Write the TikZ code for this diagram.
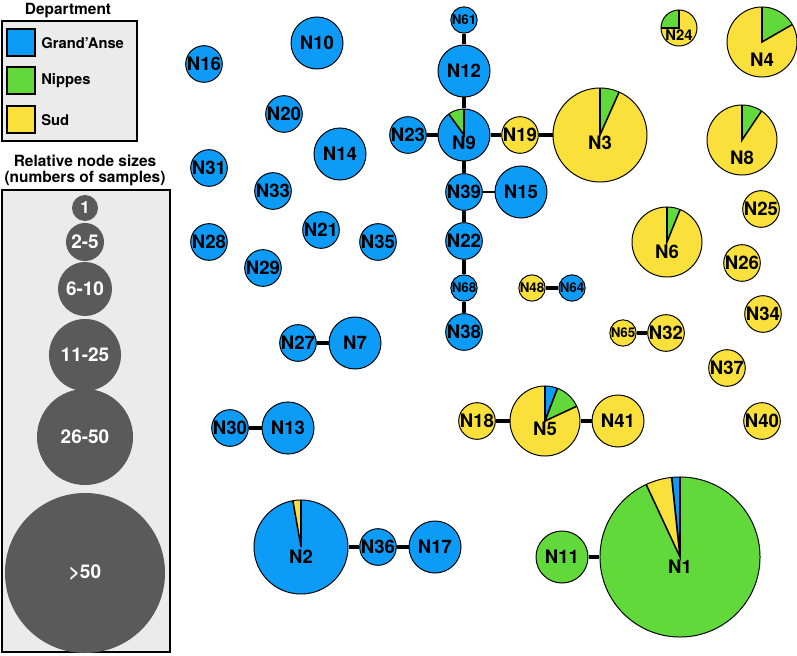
\documentclass[tikz,border=0pt]{standalone}
\usepackage{fontspec}
\setmainfont{TeX Gyre Heros}
\usepackage{tikz}
\usepackage{xcolor}
\usetikzlibrary{positioning}

\definecolor{gra}{RGB}{12,156,247}
\definecolor{nip}{RGB}{97,217,58}
\definecolor{sud}{RGB}{249,224,59}
\definecolor{boxgray}{RGB}{235,235,235}
\definecolor{keygray}{RGB}{90,90,90}

\newcommand{\lowered}[2]{\raisebox{-#1}[\height][\depth]{#2}}

\begin{document}
\begin{tikzpicture}[x=0.025cm, y=-0.025cm]

    % Define style for different elements
    \tikzstyle{hap} = [circle, draw=black, line width=0.7pt, inner sep=0pt, font=\fontsize{13.2}{13.2}\selectfont\bfseries]
    \tikzstyle{one} = [hap, minimum size=0.65cm, font=\fontsize{9.5}{9.5}\selectfont\bfseries]
    \tikzstyle{few} = [hap, minimum size=0.9cm]
    \tikzstyle{some} = [hap, minimum size=1.3cm]
    \tikzstyle{many} = [hap, minimum size=1.75cm]
    \tikzstyle{lots} = [hap, minimum size=2.35cm]
    \tikzstyle{most} = [hap, minimum size=4cm]
    \tikzstyle{pie} = [path picture={\foreach \c/\a/\b in {#1} {\filldraw[fill=\c, draw=black, line width=1.1pt] (path picture bounding box.center) -- ++(\a:5cm) arc[start angle=\a, end angle=\b, radius=5cm] -- cycle;}}]
    \tikzstyle{link} = [line width=3.2pt]
    \tikzstyle{thinlink} = [line width=1.4pt]
    \tikzstyle{key} = [circle, fill=keygray, text=white, inner sep=0pt, font=\fontsize{13.5}{13.5}\selectfont\bfseries]
    \tikzstyle{legtext} = [font=\fontsize{10.5}{10.5}\selectfont\bfseries, anchor=west, inner sep=0pt]
    \tikzstyle{swatch} = [draw=black, line width=1.4pt, minimum width=0.7cm, minimum height=0.67cm, inner sep=0pt]

    \useasboundingbox (0,0) rectangle (797,656);

    % Legend: departments
    \node[font=\fontsize{11}{11}\selectfont\bfseries] (deptitle) at (68,11) {Department};
    \draw[line width=1.4pt, fill=boxgray] (2,21) rectangle (137,141);
    \node (swgra) [swatch, fill=gra] at (21,42.5) {};
    \node (swnip) [swatch, fill=nip] at (21,80.5) {};
    \node (swsud) [swatch, fill=sud] at (21,119.5) {};
    \node (lgra) [legtext] at (41,43) {Grand'Anse};
    \node (lnip) [legtext] at (41,81) {Nippes};
    \node (lsud) [legtext] at (41,120) {Sud};

    % Legend: node sizes
    \node[font=\fontsize{11}{11}\selectfont\bfseries] (sizetitle) at (85,161) {Relative node sizes};
    \node[font=\fontsize{11}{11}\selectfont\bfseries] (sizesub) at (85,179) {(numbers of samples)};
    \draw[line width=1.4pt, fill=boxgray] (2,190) rectangle (170,652);
    \node (sz1) [key, minimum size=0.65cm, font=\fontsize{12}{12}\selectfont\bfseries] at (85,208) {1};
    \node (sz2) [key, minimum size=0.95cm] at (85,242) {2-5};
    \node (sz3) [key, minimum size=1.35cm] at (85,289) {6-10};
    \node (sz4) [key, minimum size=1.8cm] at (85,355) {11-25};
    \node (sz5) [key, minimum size=2.4cm] at (85,437) {26-50};
    \node (sz6) [key, minimum size=4cm] at (85,573) {>50};

    % Place nodes
    \node (N10) [some, fill=gra] at (317,43) {N10};
    \node (N16) [few, fill=gra] at (204,64) {N16};
    \node (N20) [few, fill=gra] at (284,114) {N20};
    \node (N14) [some, fill=gra] at (340,154) {N14};
    \node (N31) [few, fill=gra] at (209,168) {N31};
    \node (N33) [few, fill=gra] at (273,191) {N33};
    \node (N21) [few, fill=gra] at (321,230) {N21};
    \node (N35) [few, fill=gra] at (378,242) {N35};
    \node (N28) [few, fill=gra] at (209,242) {N28};
    \node (N29) [few, fill=gra] at (263,268) {N29};

    \node (N61) [one, fill=gra] at (464,20) {N61};
    \node (N12) [some, fill=gra] at (464,71) {N12};
    \node (N9) [some, fill=gra, pie={nip/90/126}] at (464,135) {\lowered{0.2cm}{N9}};
    \node (N23) [few, fill=gra] at (408,135) {N23};
    \node (N19) [few, fill=sud] at (520,135) {N19};
    \node (N3) [lots, fill=sud, pie={nip/66/90}] at (600,135) {\lowered{0.2cm}{N3}};
    \node (N39) [few, fill=gra] at (464,192) {N39};
    \node (N15) [some, fill=gra] at (521,192) {N15};
    \node (N22) [few, fill=gra] at (464,241) {N22};
    \node (N68) [one, fill=gra] at (464,288) {N68};
    \node (N38) [few, fill=gra] at (464,332) {N38};
    \node (N48) [one, fill=sud] at (532,288) {N48};
    \node (N64) [one, fill=gra] at (572,288) {N64};

    \node (N24) [few, fill=sud, pie={nip/90/180}, font=\fontsize{10.5}{10.5}\selectfont\bfseries] at (679,28) {\lowered{0.18cm}{N24}};
    \node (N4) [many, fill=sud, pie={nip/30/90}] at (762,42) {\lowered{0.45cm}{N4}};
    \node (N8) [many, fill=sud, pie={nip/56/90}] at (742,140) {\lowered{0.45cm}{N8}};
    \node (N6) [many, fill=sud, pie={nip/68/90}] at (667,242) {\lowered{0.25cm}{N6}};
    \node (N25) [few, fill=sud] at (761,209) {N25};
    \node (N26) [few, fill=sud] at (742,263) {N26};
    \node (N34) [few, fill=sud] at (763,314) {N34};
    \node (N65) [one, fill=sud] at (623,333) {N65};
    \node (N32) [few, fill=sud] at (666,333) {N32};
    \node (N37) [few, fill=sud] at (727,368) {N37};
    \node (N40) [few, fill=sud] at (762,421) {N40};

    \node (N18) [few, fill=sud] at (477,421) {N18};
    \node (N5) [many, fill=sud, pie={gra/69/90, nip/25/69}] at (545,421) {\lowered{0.2cm}{N5}};
    \node (N41) [some, fill=sud] at (618,421) {N41};

    \node (N27) [few, fill=gra] at (298,343) {N27};
    \node (N7) [some, fill=gra] at (355,343) {N7};
    \node (N30) [few, fill=gra] at (230,428) {N30};
    \node (N13) [some, fill=gra] at (288,428) {N13};
    \node (N2) [lots, fill=gra, pie={sud/90/100}] at (301,547) {\lowered{0.25cm}{N2}};
    \node (N36) [few, fill=gra] at (378,547) {N36};
    \node (N17) [some, fill=gra] at (435,547) {N17};
    \node (N11) [some, fill=nip] at (562,557) {N11};
    \node (N1) [most, fill=nip, pie={gra/90/96, sud/96/115}] at (680,557) {\lowered{0.25cm}{N1}};

    % Draw links
    \draw [link] (N61) -- (N12);
    \draw [link] (N12) -- (N9);
    \draw [link] (N9) -- (N23);
    \draw [link] (N9) -- (N19);
    \draw [link] (N19) -- (N3);
    \draw [link] (N9) -- (N39);
    \draw [thinlink] (N39) -- (N15);
    \draw [link] (N39) -- (N22);
    \draw [link] (N22) -- (N68);
    \draw [link] (N68) -- (N38);
    \draw [link] (N48) -- (N64);
    \draw [link] (N65) -- (N32);
    \draw [link] (N18) -- (N5);
    \draw [link] (N5) -- (N41);
    \draw [link] (N27) -- (N7);
    \draw [link] (N30) -- (N13);
    \draw [link] (N2) -- (N36);
    \draw [link] (N36) -- (N17);
    \draw [link] (N11) -- (N1);

\end{tikzpicture}
\end{document}
